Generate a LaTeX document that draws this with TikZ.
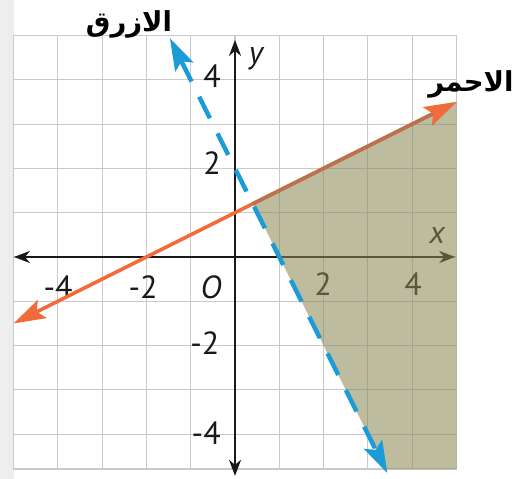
\documentclass[tikz,border=0pt]{standalone}
\usepackage{fontspec}
\setmainfont{PT Sans}
\newfontfamily\arabicfont[Script=Arabic]{DejaVu Sans}
\TeXXeTstate=1
\usetikzlibrary{arrows.meta}
\definecolor{shadec}{RGB}{140,137,85}
\definecolor{gridc}{RGB}{200,201,208}
\definecolor{redl}{RGB}{242,107,58}
\definecolor{brownl}{RGB}{186,114,78}
\definecolor{bluel}{RGB}{27,155,215}
\definecolor{axisc}{RGB}{25,25,25}
\definecolor{stripc}{RGB}{238,238,238}
\begin{document}
\begin{tikzpicture}[x=44.3pt,y=44.3pt,
  gridline/.style={draw=gridc, line width=1.1pt},
  axisline/.style={draw=axisc, line width=2pt, {Stealth[length=16pt,width=12pt,inset=5pt]}-{Stealth[length=16pt,width=12pt,inset=5pt]}},
  redline/.style={draw=redl, line width=3.5pt},
  brownline/.style={draw=brownl, line width=3.5pt},
  redtips/.style={{Stealth[length=32pt,width=20pt,inset=6pt]}-{Stealth[length=32pt,width=20pt,inset=6pt]}},
  redtip/.style={-{Stealth[length=32pt,width=20pt,inset=6pt,color=redl]}},
  bluetips/.style={{Stealth[length=32pt,width=20pt,inset=6pt]}-{Stealth[length=32pt,width=20pt,inset=6pt]}},
  blueline/.style={draw=bluel, line width=4.5pt, dash pattern=on 24pt off 17pt},
  ticklabel/.style={font=\fontsize{32}{32}\selectfont, text=axisc, inner sep=0pt},
  arlabel/.style={font=\arabicfont\bfseries\fontsize{27.5}{27.5}\selectfont, inner sep=0pt}
]
\useasboundingbox (-5.305,-5.011) rectangle (6.501,5.801);
\fill[stripc] (-5.305,-5.011) rectangle (-5,5.801);
% grid
\draw[gridline, step=44.3pt] (-5,-4.786) grid (5,5);
\draw[gridline] (-5,-4.786) rectangle (5,5);
% axes
\coordinate (xl) at (-4.99,0);
\coordinate (xr) at (4.97,0);
\coordinate (yb) at (0,-4.94);
\coordinate (yt) at (0,4.9);
\draw[axisline] (xl) -- (xr);
\draw[axisline] (yb) -- (yt);
% tick labels
\node[ticklabel] (ly4) at (-0.52,4.09) {4};
\node[ticklabel] (ly2) at (-0.52,2.12) {2};
\node[ticklabel] (lym2) at (-0.68,-1.94) {-2};
\node[ticklabel] (lym4) at (-0.65,-3.97) {-4};
\node[ticklabel] (lxm4) at (-3.995,-0.677) {-4};
\node[ticklabel] (lxm2) at (-2.077,-0.677) {-2};
\node[ticklabel] (lo) at (-0.542,-0.677) {\itshape O};
\node[ticklabel] (lx2) at (1.986,-0.61) {2};
\node[ticklabel] (lx4) at (4.018,-0.61) {4};
\node[ticklabel] (lx) at (4.56,0.474) {\itshape x};
\node[ticklabel] (ly) at (0.474,4.47) {\itshape y};
% red line
\coordinate (r1) at (-5,-1.5);
\coordinate (r2) at (5,3.5);
\draw[redline, redtips] (r1) -- (r2);
% shaded region
\coordinate (p1) at (0.4,1.2);
\coordinate (p2) at (5,-4.786);
\coordinate (p3) at (3.393,-4.786);
\fill[shadec, fill opacity=0.57] (p1) -- (r2) -- (p2) -- (p3) -- cycle;
\draw[brownline, redtip] (p1) -- (r2);
% blue dashed line
\coordinate (b1) at (-1.47,4.94);
\coordinate (b2) at (3.44,-4.88);
\draw[blueline, bluetips] (b1) -- (b2);
% Arabic labels
\node[arlabel] (azraq) at (-2.393,5.26) {\beginR الازرق\endR};
\node[arlabel] (ahmar) at (5.327,3.905) {\beginR الاحمر\endR};
\end{tikzpicture}
\end{document}
